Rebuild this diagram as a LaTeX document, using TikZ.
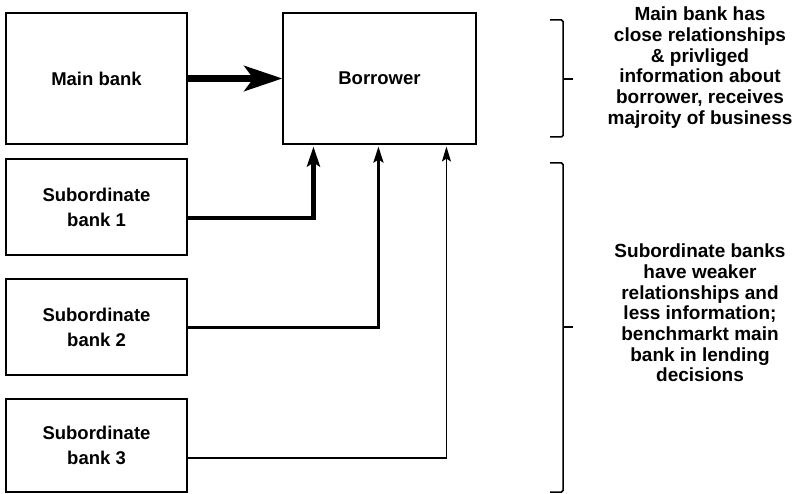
\documentclass[tikz,border=0pt]{standalone}
\usepackage{fontspec}
\setmainfont{Liberation Sans}
\usetikzlibrary{arrows.meta}

\tikzset{
  bankbox/.style={draw, line width=1.1pt, inner sep=0pt, align=center,
    font=\bfseries\fontsize{18.5}{25}\selectfont},
  note/.style={align=center, inner sep=0pt,
    font=\bfseries\fontsize{19}{20.7}\selectfont},
  brace/.style={line width=1.5pt, rounded corners=1.5pt},
  link/.style={line cap=butt, line join=miter},
}

\begin{document}
\begin{tikzpicture}[x=1pt, y=-1pt]
  \useasboundingbox (0,0) rectangle (794,494);

  % boxes
  \node[bankbox, minimum width=181pt, minimum height=131pt] (main) at (96.5,78.5) {Main bank};
  \node[bankbox, minimum width=193pt, minimum height=131pt] (borrower) at (379.5,78.5) {Borrower};
  \node[bankbox, minimum width=181pt, minimum height=96pt] (sub1) at (96.5,207) {Subordinate\\bank 1};
  \node[bankbox, minimum width=181pt, minimum height=96pt] (sub2) at (96.5,327) {Subordinate\\bank 2};
  \node[bankbox, minimum width=181pt, minimum height=93pt] (sub3) at (96.5,445.5) {Subordinate\\bank 3};

  % connectors, heavier for closer relationships
  \draw[link, line width=7pt, -{Stealth[length=38pt, width=25pt, inset=9pt]}]
    (main.east) -- (borrower.west);
  \draw[link, line width=4.2pt, -{Stealth[length=20pt, width=13pt, inset=4pt]}]
    ([yshift=-11pt]sub1.east) -| ([xshift=31pt, yshift=-2pt]borrower.south west);
  \draw[link, line width=2.8pt, -{Stealth[length=16pt, width=10pt, inset=3pt]}]
    ([yshift=-0.5pt]sub2.east) -| ([xshift=96pt, yshift=-2pt]borrower.south west);
  \draw[link, line width=1.1pt, -{Stealth[length=15pt, width=9pt, inset=3pt]}]
    ([yshift=-12.5pt]sub3.east) -| ([xshift=164pt, yshift=-2pt]borrower.south west);

  % brackets
  \draw[brace] (550,20) -- (563,20) -- (563,137) -- (550,137);
  \draw[brace] (563,79) -- (573,79);
  \draw[brace] (550,163) -- (563,163) -- (563,492) -- (550,492);
  \draw[brace] (563,327) -- (573,327);

  % notes
  \node[note] (mainnote) at (700,67.5) {Main bank has\\close relationships\\\& privliged\\information about\\borrower, receives\\majroity of business};
  \node[note] (subnote) at (700,313) {Subordinate banks\\have weaker\\relationships and\\less information;\\benchmarkt main\\bank in lending\\decisions};
\end{tikzpicture}
\end{document}
